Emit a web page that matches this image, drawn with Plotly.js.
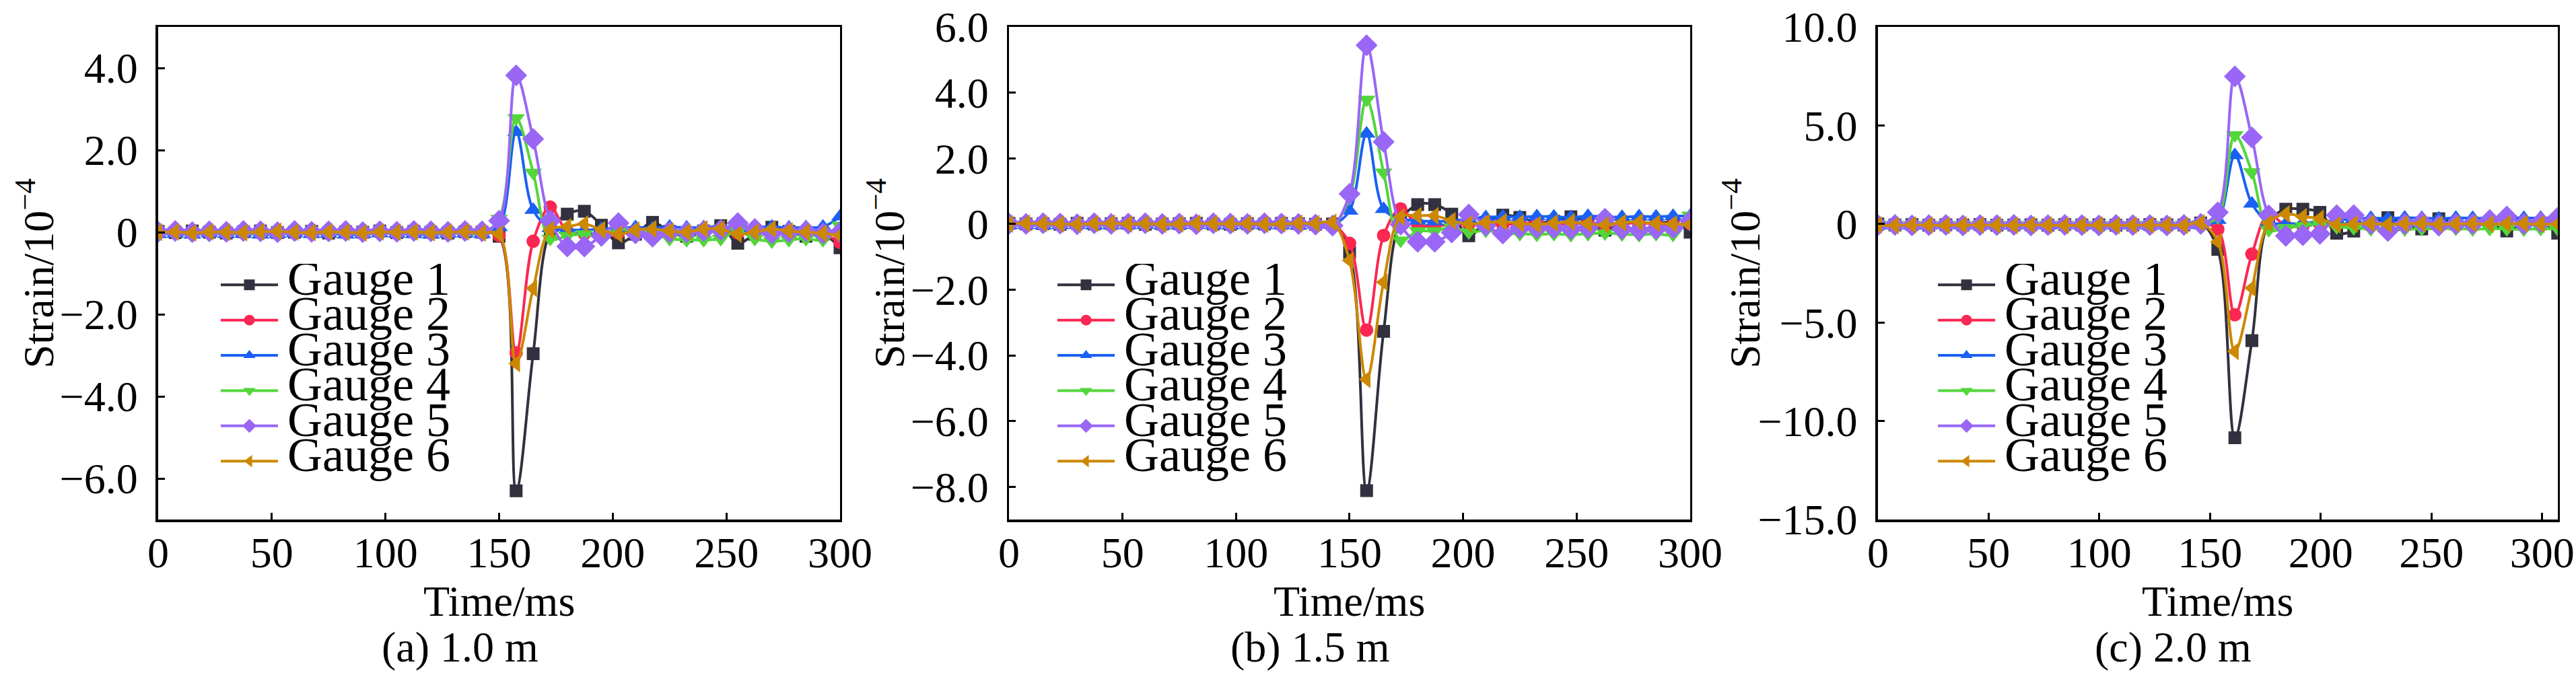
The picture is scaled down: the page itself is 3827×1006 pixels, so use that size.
<!DOCTYPE html>
<html>
<head>
<meta charset="utf-8">
<script src="https://cdn.plot.ly/plotly-3.0.1.min.js"></script>
<style>
  html, body { margin: 0; padding: 0; background: #fff; }
  #chart { width: 3827px; height: 1006px; }
</style>
</head>
<body>
<div id="chart"></div>
<script>
"use strict";

// time axes (ms): panels a and b share one, panel c is sampled a bit wider
const timeAB = [0,7.5,15,22.5,30,37.5,45,52.5,60,67.5,75,82.5,90,97.5,105,112.5,120,127.5,135,142.5,
    150,157.5,165,172.5,180,187.5,195,202.5,210,217.5,225,232.5,240,247.5,255,262.5,270,277.5,285,292.5,300];
const timeC = [0,7.7,15.4,23.0,30.7,38.4,46.1,53.7,61.4,69.1,76.8,84.4,92.1,99.8,107.5,115.1,122.8,130.5,138.2,145.8,
    153.5,161.2,168.9,176.5,184.2,191.9,199.6,207.2,214.9,222.6,230.3,237.9,245.6,253.3,261.0,268.6,276.3,284.0,291.7,299.3,307.0];

const gaugeNames = ['Gauge 1', 'Gauge 2', 'Gauge 3', 'Gauge 4', 'Gauge 5', 'Gauge 6'];
const panelCaptions = ['(a) 1.0 m', '(b) 1.5 m', '(c) 2.0 m'];

// (a) 1.0 m  strain, 10^-4
const strainA1 = [0.02,-0.01,0.03,0.00,-0.02,0.01,0.03,-0.01,0.00,0.02,-0.02,0.01,0.00,0.03,-0.01,0.02,0.00,-0.02,0.01,0.00,
    -0.10,-6.30,-2.96,0.02,0.44,0.51,0.17,-0.26,-0.05,0.24,0.02,-0.10,0.03,0.16,-0.27,-0.05,0.12,0.02,-0.10,-0.05,-0.38];
const strainA2 = [0.00,0.02,-0.01,0.01,0.00,-0.02,0.01,0.02,-0.01,0.00,0.01,-0.01,0.02,0.00,-0.01,0.01,0.00,0.02,-0.01,0.00,
    -0.08,-2.94,-0.22,0.61,0.02,-0.04,-0.06,-0.02,0.03,-0.01,0.02,-0.03,0.01,0.04,-0.02,0.00,0.03,-0.01,0.02,-0.04,-0.25];
const strainA3 = [-0.05,-0.04,-0.06,-0.03,-0.05,-0.04,-0.06,-0.05,-0.03,-0.05,-0.04,-0.06,-0.05,-0.03,-0.04,-0.05,-0.06,-0.04,-0.03,-0.05,
    0.12,2.44,0.54,0.10,0.06,0.05,0.08,0.10,0.12,0.10,0.13,0.11,0.12,0.13,0.10,0.12,0.13,0.11,0.12,0.13,0.38];
const strainA4 = [-0.03,-0.02,-0.04,-0.03,-0.02,-0.04,-0.03,-0.03,-0.02,-0.04,-0.03,-0.02,-0.03,-0.04,-0.02,-0.03,-0.03,-0.04,-0.02,-0.05,
    0.33,2.78,1.45,-0.16,-0.09,-0.05,-0.12,0.08,0.00,-0.05,-0.16,-0.19,-0.19,-0.16,0.03,-0.16,-0.22,-0.19,-0.16,-0.19,0.16];
const strainA5 = [0.01,0.03,0.00,0.02,0.01,0.03,0.02,0.00,0.03,0.01,0.02,0.03,0.00,0.02,0.01,0.03,0.02,0.01,0.03,0.02,
    0.28,3.82,2.27,0.28,-0.35,-0.35,-0.09,0.22,-0.03,-0.11,0.00,0.00,0.03,0.05,0.22,0.08,-0.03,0.00,0.03,-0.03,0.00];
const strainA6 = [0.00,0.01,-0.02,0.01,0.00,-0.01,0.01,0.02,0.00,-0.01,0.01,0.00,-0.02,0.01,0.00,0.01,-0.01,0.00,0.01,-0.02,
    -0.05,-3.20,-1.37,0.06,0.13,0.20,0.06,-0.05,0.05,0.08,0.03,0.00,0.08,0.08,-0.05,0.00,0.08,0.03,0.00,-0.03,-0.08];

// (b) 1.5 m
const strainB1 = [0.02,0.00,0.01,-0.01,0.02,0.00,0.01,0.02,-0.01,0.00,0.01,0.02,0.00,-0.01,0.01,0.00,0.02,0.01,-0.01,0.00,
    -0.87,-8.12,-3.27,0.10,0.59,0.59,0.30,-0.36,0.05,0.27,0.20,0.05,0.08,0.22,0.05,-0.19,0.03,0.06,0.02,0.05,-0.25];
const strainB2 = [0.00,0.01,-0.01,0.02,0.00,-0.01,0.01,0.00,0.02,-0.01,0.00,0.01,-0.02,0.00,0.01,-0.01,0.00,0.02,0.00,-0.03,
    -0.59,-3.23,-0.35,0.46,-0.03,-0.05,-0.02,0.00,0.02,-0.02,0.01,0.03,-0.01,0.00,0.02,-0.02,0.01,0.03,0.00,-0.02,0.01];
const strainB3 = [-0.04,-0.03,-0.05,-0.04,-0.03,-0.05,-0.04,-0.04,-0.03,-0.05,-0.04,-0.03,-0.04,-0.05,-0.03,-0.04,-0.04,-0.05,-0.03,-0.02,
    0.40,2.75,0.45,0.16,0.10,0.08,0.10,0.15,0.20,0.22,0.21,0.23,0.22,0.20,0.24,0.22,0.21,0.23,0.22,0.24,0.24];
const strainB4 = [-0.05,-0.04,-0.06,-0.05,-0.04,-0.06,-0.05,-0.05,-0.04,-0.06,-0.05,-0.04,-0.05,-0.06,-0.04,-0.05,-0.05,-0.06,-0.04,-0.05,
    0.80,3.79,1.57,-0.50,-0.22,-0.22,-0.10,-0.25,-0.20,-0.28,-0.30,-0.32,-0.30,-0.33,-0.30,-0.28,-0.31,-0.33,-0.30,-0.32,0.26];
const strainB5 = [0.01,0.00,0.02,0.01,-0.01,0.02,0.00,0.01,0.02,0.00,0.01,-0.01,0.02,0.01,0.00,0.02,0.01,0.00,-0.02,-0.05,
    0.92,5.44,2.50,-0.02,-0.54,-0.54,-0.26,0.29,-0.05,-0.29,-0.12,-0.12,-0.12,-0.15,-0.12,0.16,-0.15,-0.19,-0.15,-0.12,0.10];
const strainB6 = [0.00,0.02,0.01,0.00,-0.01,0.01,0.02,0.00,0.01,-0.01,0.00,0.02,0.01,0.00,0.01,-0.01,0.00,0.02,0.01,0.05,
    -1.11,-4.73,-1.77,0.21,0.25,0.25,0.10,0.00,0.04,0.07,0.02,-0.02,0.03,0.06,0.01,-0.03,0.04,0.06,0.02,0.00,-0.02];

// (c) 2.0 m
const strainC1 = [0.00,-0.05,-0.03,-0.06,-0.04,-0.05,-0.03,-0.06,-0.05,-0.04,-0.06,-0.03,-0.05,-0.04,-0.06,-0.05,-0.03,-0.04,-0.05,0.05,
    -1.29,-10.85,-5.92,0.10,0.75,0.75,0.59,-0.47,-0.36,0.00,0.32,-0.02,-0.25,0.27,0.00,0.00,0.05,-0.36,0.00,0.00,-0.47];
const strainC2 = [-0.05,-0.04,-0.06,-0.05,-0.03,-0.05,-0.04,-0.06,-0.05,-0.04,-0.05,-0.03,-0.06,-0.04,-0.05,-0.04,-0.06,-0.05,-0.03,0.00,
    -0.27,-4.61,-1.53,0.51,-0.10,-0.10,0.00,-0.03,0.02,-0.02,0.00,0.03,-0.01,0.02,0.00,-0.03,0.01,0.02,-0.02,0.00,0.01];
const strainC3 = [-0.08,-0.07,-0.09,-0.08,-0.06,-0.08,-0.07,-0.09,-0.08,-0.07,-0.08,-0.06,-0.09,-0.07,-0.08,-0.07,-0.09,-0.08,-0.06,-0.05,
    0.20,3.49,1.03,0.10,0.00,0.05,0.10,0.20,0.25,0.30,0.28,0.32,0.30,0.28,0.31,0.30,0.29,0.32,0.30,0.31,0.30];
const strainC4 = [-0.04,-0.03,-0.05,-0.04,-0.03,-0.05,-0.04,-0.04,-0.03,-0.05,-0.04,-0.03,-0.04,-0.05,-0.03,-0.04,-0.04,-0.05,-0.03,0.00,
    0.35,4.51,2.63,-0.30,-0.20,-0.10,0.00,-0.15,-0.20,-0.25,-0.22,-0.26,-0.24,-0.25,-0.23,-0.26,-0.24,-0.25,-0.27,-0.24,-0.25];
const strainC5 = [-0.06,-0.05,-0.07,-0.06,-0.05,-0.07,-0.06,-0.06,-0.05,-0.07,-0.06,-0.05,-0.06,-0.07,-0.05,-0.06,-0.06,-0.07,-0.05,0.00,
    0.59,7.49,4.39,0.44,-0.60,-0.57,-0.50,0.45,0.45,0.00,-0.36,0.00,0.10,-0.08,0.00,0.00,0.20,0.38,0.00,0.10,0.32];
const strainC6 = [-0.06,-0.07,-0.05,-0.06,-0.07,-0.05,-0.06,-0.06,-0.07,-0.05,-0.06,-0.07,-0.06,-0.05,-0.07,-0.06,-0.06,-0.05,-0.07,0.05,
    -0.90,-6.47,-3.25,0.04,0.51,0.36,0.28,-0.04,0.00,0.03,-0.02,0.01,0.03,-0.02,0.00,0.02,-0.01,0.01,0.02,-0.01,0.00];

// y tick labels per panel
const yTicksA = [-6, -4, -2, 0, 2, 4];
const yTextA = ['\u22126.0', '\u22124.0', '\u22122.0', '0', '2.0', '4.0'];
const yTicksB = [-8, -6, -4, -2, 0, 2, 4, 6];
const yTextB = ['\u22128.0', '\u22126.0', '\u22124.0', '\u22122.0', '0', '2.0', '4.0', '6.0'];
const yTicksC = [-15, -10, -5, 0, 5, 10];
const yTextC = ['\u221215.0', '\u221210.0', '\u22125.0', '0', '5.0', '10.0'];

const FONT = 'Liberation Serif, Times New Roman, serif';
const gaugeColors = ['#31313f', '#fb2752', '#1b60f5', '#52d63a', '#9966f5', '#cc8800'];
const gaugeSymbols = ['square', 'circle', 'triangle-up', 'triangle-down', 'diamond', 'triangle-left'];
const gaugeSizes = [19, 20, 23, 23, 25, 23];

const panels = [
    { t: timeAB, series: [strainA1, strainA2, strainA3, strainA4, strainA5, strainA6],
      xdom: [0.0614, 0.3261], xr: [0, 300], yr: [-7, 5], tv: yTicksA, tt: yTextA,
      legX: 0.0844, capX: 0.1785, ytitleX: 0.0248 },
    { t: timeAB, series: [strainB1, strainB2, strainB3, strainB4, strainB5, strainB6],
      xdom: [0.3917, 0.6561], xr: [0, 300], yr: [-9, 6], tv: yTicksB, tt: yTextB,
      legX: 0.4092, capX: 0.5085, ytitleX: 0.3551 },
    { t: timeC, series: [strainC1, strainC2, strainC3, strainC4, strainC5, strainC6],
      xdom: [0.7290, 0.9929], xr: [0, 307], yr: [-15, 10], tv: yTicksC, tt: yTextC,
      legX: 0.7510, capX: 0.8435, ytitleX: 0.6872 }
];
const yDomain = [0.2326, 0.9602];

const traces = [];
const layout = {
    width: 3827,
    height: 1006,
    margin: { l: 0, r: 0, t: 0, b: 0 },
    paper_bgcolor: '#ffffff',
    plot_bgcolor: '#ffffff',
    font: { family: FONT, size: 64, color: '#000000' },
    annotations: []
};

const textFont = { family: FONT, size: 64, color: '#000000' };

panels.forEach((p, i) => {
    const n = i === 0 ? '' : String(i + 1);
    const legendId = 'legend' + n;

    p.series.forEach((vals, g) => {
        traces.push({
            x: p.t,
            y: vals,
            type: 'scatter',
            mode: 'lines+markers',
            // legend rows in the source are tighter than the text size, so the
            // legend font sets the row pitch and the span sets the glyph size
            name: '<span style="font-size:36px">&nbsp;</span><span style="font-size:72px">' + gaugeNames[g] + '</span>',
            xaxis: 'x' + n,
            yaxis: 'y' + n,
            legend: legendId,
            line: { color: gaugeColors[g], width: 4, shape: 'spline', smoothing: 1 },
            marker: { color: gaugeColors[g], symbol: gaugeSymbols[g], size: gaugeSizes[g] }
        });
    });

    const axisCommon = {
        showline: true, linecolor: '#000000', linewidth: 3.5, mirror: true,
        ticks: 'inside', ticklen: 10, tickwidth: 3, tickcolor: '#000000',
        showgrid: false, zeroline: false,
        tickfont: textFont
    };

    layout['xaxis' + n] = {
        ...axisCommon,
        domain: p.xdom, range: p.xr, anchor: 'y' + n,
        tickmode: 'linear', tick0: 0, dtick: 50,
        ticklabelstandoff: -9
    };
    layout['yaxis' + n] = {
        ...axisCommon,
        domain: yDomain, range: p.yr, anchor: 'x' + n,
        tickmode: 'array', tickvals: p.tv, ticktext: p.tt,
        ticklabelstandoff: 14
    };
    layout[legendId] = {
        x: p.legX, y: 0.6103, xanchor: 'left', yanchor: 'top',
        bgcolor: 'rgba(0,0,0,0)', borderwidth: 0,
        itemwidth: 85,
        font: { family: FONT, size: 38, color: '#000000' }
    };

    // axis titles and captions are placed in paper space to match the source spacing
    layout.annotations.push({
        text: 'Strain/10<sup>\u22124</sup>', xref: 'paper', yref: 'paper',
        x: p.ytitleX, y: (yDomain[0] + yDomain[1]) / 2, xanchor: 'right', yanchor: 'middle',
        textangle: -90, showarrow: false, font: textFont
    });
    layout.annotations.push({
        text: 'Time/ms', xref: 'paper', yref: 'paper',
        x: (p.xdom[0] + p.xdom[1]) / 2, y: 0.0746, xanchor: 'center', yanchor: 'bottom',
        showarrow: false, font: textFont
    });
    layout.annotations.push({
        text: panelCaptions[i], xref: 'paper', yref: 'paper',
        x: p.capX, y: 0.007, xanchor: 'center', yanchor: 'bottom',
        showarrow: false, font: textFont
    });
});

Plotly.newPlot('chart', traces, layout, { staticPlot: true });
</script>
</body>
</html>
